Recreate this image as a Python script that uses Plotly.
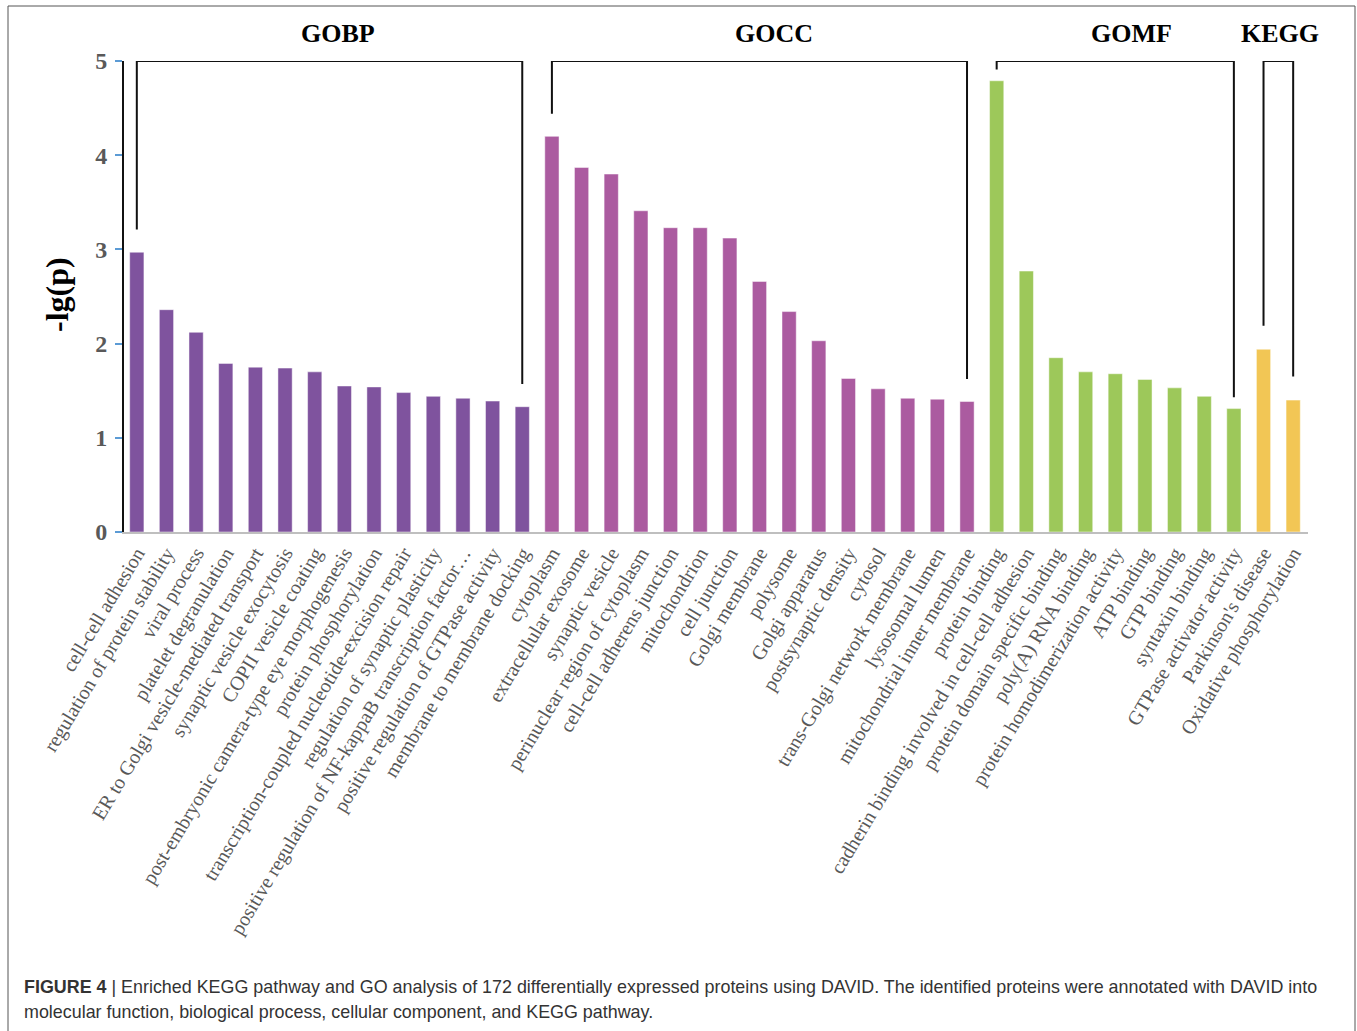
import plotly.graph_objects as go

# ---------------- data ----------------
gobp_terms = ["cell-cell adhesion", "regulation of protein stability", "viral process",
              "platelet degranulation", "ER to Golgi vesicle-mediated transport",
              "synaptic vesicle exocytosis", "COPII vesicle coating",
              "post-embryonic camera-type eye morphogenesis", "protein phosphorylation",
              "transcription-coupled nucleotide-excision repair",
              "regulation of synaptic plasticity",
              "positive regulation of NF-kappaB transcription factor…",
              "positive regulation of GTPase activity", "membrane to membrane docking"]
gobp_vals = [2.97, 2.36, 2.12, 1.79, 1.75, 1.74, 1.70, 1.55, 1.54, 1.48, 1.44, 1.42, 1.39, 1.33]

gocc_terms = ["cytoplasm", "extracellular exosome", "synaptic vesicle",
              "perinuclear region of cytoplasm", "cell-cell adherens junction",
              "mitochondrion", "cell junction", "Golgi membrane", "polysome",
              "Golgi apparatus", "postsynaptic density", "cytosol",
              "trans-Golgi network membrane", "lysosomal lumen",
              "mitochondrial inner membrane"]
gocc_vals = [4.20, 3.87, 3.80, 3.41, 3.23, 3.23, 3.12, 2.66, 2.34, 2.03, 1.63, 1.52, 1.42, 1.41, 1.385]

gomf_terms = ["protein binding", "cadherin binding involved in cell-cell adhesion",
              "protein domain specific binding", "poly(A) RNA binding",
              "protein homodimerization activity", "ATP binding", "GTP binding",
              "syntaxin binding", "GTPase activator activity"]
gomf_vals = [4.79, 2.77, 1.85, 1.70, 1.68, 1.62, 1.53, 1.44, 1.31]

kegg_terms = ["Parkinson's disease", "Oxidative phosphorylation"]
kegg_vals = [1.94, 1.40]

group_names = ["GOBP", "GOCC", "GOMF", "KEGG"]
y_ticks = [0, 1, 2, 3, 4, 5]

# ---------------- styling ----------------
group_colors = ["#7F539E", "#AB5BA0", "#9DC85A", "#F2C655"]
bracket_gap = [0.24, 0.24, 0.12, 0.25]
label_shift = [0.28, 0.49, 0.54, 0.06]
W, H = 1357, 1031
L, R, T, B = 124, 49, 61, 499
pw, ph = W - L - R, H - T - B


def px2paper_x(px):
    return (px - L) / pw


def px2paper_y(py):
    return (H - B - py) / ph


groups = [(gobp_terms, gobp_vals), (gocc_terms, gocc_vals),
          (gomf_terms, gomf_vals), (kegg_terms, kegg_vals)]

fig = go.Figure()
all_terms = []
shapes = []
annotations = []
start = 0
for gi, (terms, vals) in enumerate(groups):
    xs = list(range(start, start + len(terms)))
    all_terms += terms
    fig.add_trace(go.Bar(
        x=xs, y=vals, width=0.48, name=group_names[gi],
        marker=dict(color=group_colors[gi], line=dict(color="rgba(255,255,255,0.6)", width=0.8)),
        showlegend=False, hoverinfo="x+y"))
    x0, x1 = xs[0], xs[-1]
    ya = vals[0] + bracket_gap[gi]
    yb = vals[-1] + bracket_gap[gi]
    shapes.append(dict(type="path", xref="x", yref="y",
                       path=f"M {x0},{ya} L {x0},5 L {x1},5 L {x1},{yb}",
                       line=dict(color="#111111", width=2)))
    annotations.append(dict(x=(x0 + x1) / 2 + label_shift[gi], y=px2paper_y(33),
                            xref="x", yref="paper", text=f"<b>{group_names[gi]}</b>",
                            showarrow=False, xanchor="center", yanchor="middle",
                            font=dict(family="Liberation Serif", size=26, color="#000000")))
    start += len(terms)

n = len(all_terms)

# frame around the whole figure
shapes.append(dict(type="rect", xref="paper", yref="paper",
                   x0=px2paper_x(8), x1=px2paper_x(1355),
                   y0=px2paper_y(1045), y1=px2paper_y(6),
                   line=dict(color="#555555", width=1), fillcolor="rgba(0,0,0,0)", layer="below"))

# y-axis title
annotations.append(dict(x=px2paper_x(57), y=px2paper_y(295), xref="paper", yref="paper",
                        text="<b>-lg(p)</b>", textangle=-90, showarrow=False,
                        xanchor="center", yanchor="middle",
                        font=dict(family="Liberation Serif", size=32, color="#000000")))

# caption
annotations.append(dict(x=px2paper_x(22), y=px2paper_y(987), xref="paper", yref="paper",
                        text="<b>FIGURE 4</b> | Enriched KEGG pathway and GO analysis of 172 differentially "
                             "expressed proteins using DAVID. The identified proteins were annotated with DAVID into",
                        showarrow=False, xanchor="left", yanchor="middle",
                        font=dict(family="Liberation Sans", size=17.9, color="#333333")))
annotations.append(dict(x=px2paper_x(22), y=px2paper_y(1012), xref="paper", yref="paper",
                        text="molecular function, biological process, cellular component, and KEGG pathway.",
                        showarrow=False, xanchor="left", yanchor="middle",
                        font=dict(family="Liberation Sans", size=17.9, color="#333333")))

fig.update_layout(
    width=W, height=H,
    margin=dict(l=L, r=R, t=T, b=B, pad=0),
    plot_bgcolor="white", paper_bgcolor="white",
    shapes=shapes, annotations=annotations,
    xaxis=dict(range=[-0.432, n - 0.5], tickmode="array", tickvals=list(range(n)),
               ticktext=all_terms, tickangle=-59, showgrid=False, zeroline=False,
               showline=True, linecolor="#BFBFBF", linewidth=1.5, ticks="",
               tickfont=dict(family="Liberation Serif", size=20, color="#595959")),
    yaxis=dict(range=[0, 5], tickmode="array", tickvals=y_ticks, showgrid=False,
               zeroline=False, showline=True, linecolor="#111111", linewidth=2,
               ticks="outside", ticklen=7, tickcolor="#5B9BD5", tickwidth=1.5,
               ticklabelstandoff=3,
               tickfont=dict(family="Liberation Serif", size=24, color="#595959", weight="bold")),
)

fig.write_html("out.html")
